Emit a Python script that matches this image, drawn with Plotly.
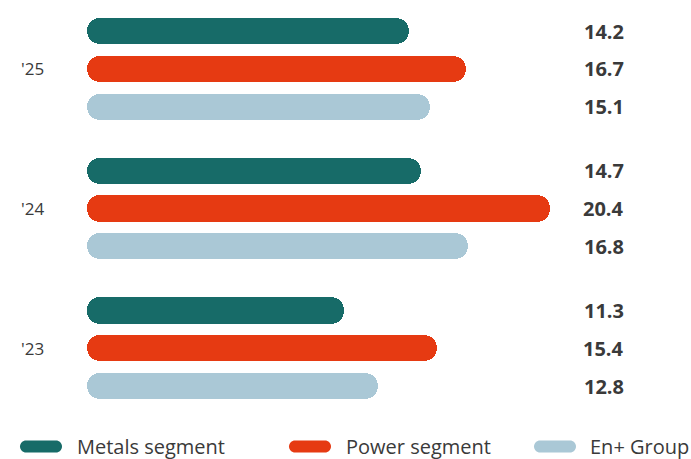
import plotly.graph_objects as go

years = ["'23", "'24", "'25"]
series_names = ["Metals segment", "Power segment", "En+ Group"]
metals = [11.3, 14.7, 14.2]
power = [15.4, 20.4, 16.7]
enplus = [12.8, 16.8, 15.1]
colors = ["#176B68", "#E63A12", "#AAC8D6"]

values = [metals, power, enplus]
offsets = [1, 0, -1]      # position of each series within a year group
group_gap = 3.7           # distance between year groups
bar_w = 0.69
TEXT = "#3A3A3A"
FONT = "Open Sans"

fig = go.Figure()
for s, (name, vals, col, off) in enumerate(zip(series_names, values, colors, offsets)):
    ys = [g * group_gap + off for g in range(len(years))]
    # right piece (rounded right end)
    fig.add_trace(go.Bar(
        orientation="h", x=[v * 0.6 for v in vals], base=[v * 0.4 for v in vals], y=ys,
        width=bar_w, marker=dict(color=col, cornerradius="50%", line=dict(width=0)),
        showlegend=False, hoverinfo="skip"))
    # left piece (rounded left end)
    fig.add_trace(go.Bar(
        orientation="h", x=[-v * 0.6 for v in vals], base=[v * 0.6 for v in vals], y=ys,
        width=bar_w, marker=dict(color=col, cornerradius="50%", line=dict(width=0)),
        showlegend=False, hoverinfo="skip"))
    for g, v in enumerate(vals):
        fig.add_annotation(x=23.75, y=ys[g], xref="x", yref="y", text=f"<b>{v:.1f}</b>",
                           showarrow=False, xanchor="right", yanchor="middle",
                           font=dict(family=FONT, size=20, color=TEXT))

# year labels
L, R_, T, B = 87, 640, 10, 410
W_px = R_ - L
H_px = B - T
for g, yl in enumerate(years):
    fig.add_annotation(x=(19 - L) / W_px, y=g * group_gap, xref="paper", yref="y", text=yl,
                       showarrow=False, xanchor="left", yanchor="middle",
                       font=dict(family=FONT, size=17, color=TEXT))

# custom legend with pill swatches
leg_pill_x = [20, 289, 534]
leg_text_x = [75, 344, 588]
leg_y = 446.5
pw, ph = 42, 12
r = ph / 2
k = 0.5523 * r
pill = (f"M {r},{-r} L {pw - r},{-r} C {pw - r + k},{-r} {pw},{-k} {pw},0 "
        f"C {pw},{k} {pw - r + k},{r} {pw - r},{r} L {r},{r} "
        f"C {r - k},{r} 0,{k} 0,0 C 0,{-k} {r - k},{-r} {r},{-r} Z")
for name, col, px, tx in zip(series_names, colors, leg_pill_x, leg_text_x):
    fig.add_shape(type="path", xref="paper", yref="paper", xsizemode="pixel", ysizemode="pixel",
                  xanchor=(px - L) / W_px, yanchor=(B - leg_y) / H_px, path=pill,
                  fillcolor=col, line=dict(width=0))
    fig.add_annotation(x=(tx - L) / W_px, y=(B - leg_y) / H_px, xref="paper", yref="paper",
                       text=name, showarrow=False, xanchor="left", yanchor="middle",
                       font=dict(family=FONT, size=20, color=TEXT))

fig.update_layout(
    width=691, height=459,
    margin=dict(l=L, r=691 - R_, t=T, b=459 - B),
    paper_bgcolor="white", plot_bgcolor="white",
    barmode="overlay", bargap=0,
    showlegend=False,
    xaxis=dict(range=[0, W_px / 22.7], visible=False, fixedrange=True),
    yaxis=dict(range=[-1 - (B - 386) / 37.77, 8.4 + (31 - T) / 37.77], visible=False),
)

fig.write_html("out.html", config={"displayModeBar": False})
with open("out.html") as f:
    html = f.read()
html = html.replace("<body>", '<body style="margin:0">', 1)
with open("out.html", "w") as f:
    f.write(html)
